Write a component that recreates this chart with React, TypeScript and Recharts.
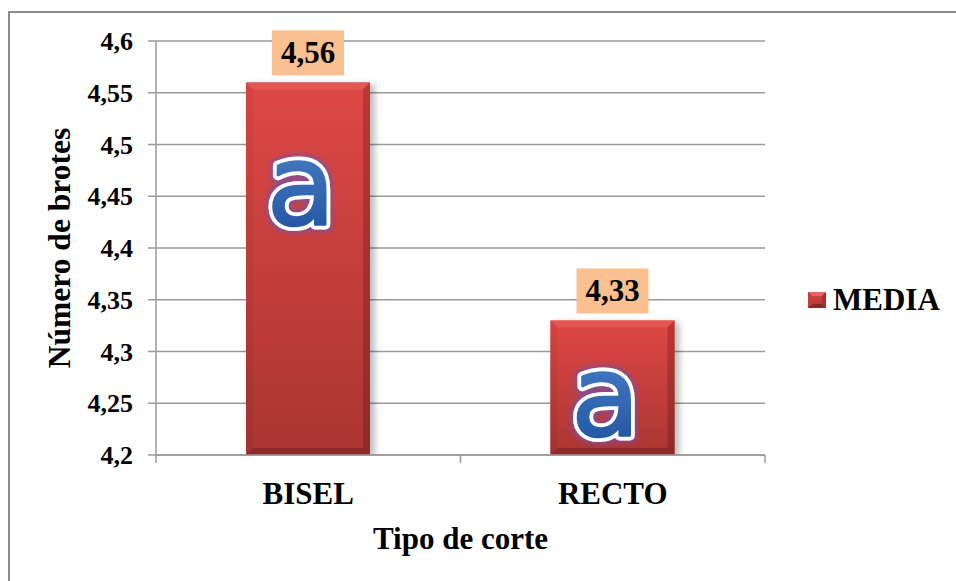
import React from 'react';
import { BarChart, Bar, XAxis, YAxis, CartesianGrid, Legend, LabelList, Label } from 'recharts';

const categories = ['BISEL', 'RECTO'];
const media = [4.56, 4.33];
const letters = ['a', 'a'];
const yTicks = [4.2, 4.25, 4.3, 4.35, 4.4, 4.45, 4.5, 4.55, 4.6];
const seriesName = 'MEDIA';
const xTitle = 'Tipo de corte';
const yTitle = 'Número de brotes';

const data = categories.map((c, i) => ({ cat: c, media: media[i], letter: letters[i] }));

const W = 956;
const H = 581;
const M = { top: 41, right: 191, bottom: 0, left: 0 };
const Y_W = 156;
const X_H = 126;
const PLOT_W = W - M.left - M.right - Y_W;
const PLOT_H = H - M.top - M.bottom - X_H;
const HALF_BAND = PLOT_W / categories.length / 2;
const FONT = '"Liberation Serif", "Times New Roman", serif';
const GRID = '#9a9a9a';

const fmt = (v: number) => String(v).replace('.', ',');

const BevelBar = (props: any) => {
  const { x, y, width, height } = props;
  if (!height || height <= 0) return null;
  const b = 7;
  const x2 = x + width;
  const y2 = y + height;
  return (
    <g>
      <rect x={x + 3} y={y + 2} width={width + 2} height={height} fill="#000" opacity={0.25} filter="url(#barShadow)" />
      <rect x={x} y={y} width={width} height={height} fill="url(#barGrad)" />
      <polygon points={`${x},${y} ${x2},${y} ${x2 - b},${y + b} ${x + b},${y + b}`} fill="#e45a57" opacity={0.8} />
      <polygon points={`${x},${y} ${x + b},${y + b} ${x + b},${y2 - b} ${x},${y2}`} fill="url(#barGradL)" />
      <polygon points={`${x2},${y} ${x2},${y2} ${x2 - b},${y2 - b} ${x2 - b},${y + b}`} fill="url(#barGradR)" />
      <polygon points={`${x},${y2} ${x + b},${y2 - b} ${x2 - b},${y2 - b} ${x2},${y2}`} fill="#8a2a28" opacity={0.9} />
    </g>
  );
};

const ValueLabel = (props: any) => {
  const { x, y, width, value } = props;
  const cx = x + width / 2;
  return (
    <g>
      <rect x={cx - 36} y={y - 52} width={72} height={45} fill="#FAC090" />
      <text x={cx} y={y - 29.5} textAnchor="middle" dominantBaseline="central" fontFamily={FONT} fontWeight="bold" fontSize={31} fill="#000">
        {fmt(value)}
      </text>
    </g>
  );
};

const LetterLabel = (props: any) => {
  const { x, y, width, height, value } = props;
  const cx = x + width / 2 - 7;
  const base = y + Math.min(height * 0.85, 142);
  const common = {
    x: cx,
    y: base,
    textAnchor: 'middle' as const,
    fontFamily: '"DejaVu Sans", Verdana, sans-serif',
    fontSize: 112,
    strokeLinejoin: 'round' as const,
  };
  return (
    <g>
      <text {...common} fill="#ffffff" stroke="#ffffff" strokeWidth={10} filter="url(#letterGlow)">
        {value}
      </text>
      <text {...common} fill="url(#letterGrad)" stroke="url(#letterGrad)" strokeWidth={2.5}>
        {value}
      </text>
    </g>
  );
};

const XTick = (props: any) => {
  const { x, y, payload, index } = props;
  return (
    <g>
      <line x1={x + HALF_BAND} x2={x + HALF_BAND} y1={y} y2={y + 8} stroke={GRID} strokeWidth={1.5} />
      {index === 0 && <line x1={x - HALF_BAND} x2={x - HALF_BAND} y1={y} y2={y + 8} stroke={GRID} strokeWidth={1.5} />}
      <text x={x} y={y + 38} textAnchor="middle" dominantBaseline="central" fontFamily={FONT} fontWeight="bold" fontSize={31} fill="#000">
        {payload.value}
      </text>
    </g>
  );
};

const LegendContent = () => (
  <div style={{ display: 'flex', alignItems: 'center', fontFamily: FONT, fontWeight: 'bold', fontSize: 31, color: '#000', lineHeight: '34px', whiteSpace: 'nowrap' }}>
    <svg width={19} height={17} style={{ marginRight: 6, display: 'block' }}>
      <rect x={0} y={0} width={18} height={16} fill="url(#barGrad)" />
      <polygon points="0,0 18,0 14,4 4,4" fill="#e86461" />
      <polygon points="0,16 4,12 14,12 18,16" fill="#8a2a28" />
      <polygon points="18,0 18,16 14,12 14,4" fill="#a5302d" />
      <polygon points="0,0 4,4 4,12 0,16" fill="#c53c39" />
    </svg>
    <span>{seriesName}</span>
  </div>
);

export default function App() {
  const cyTitle = M.top + PLOT_H / 2;
  return (
    <div style={{ position: 'absolute', left: 0, top: 0, width: W, height: H, overflow: 'hidden', background: '#fff' }}>
      <div style={{ position: 'absolute', left: 8, top: 11, width: 2000, height: 2000, borderLeft: '2px solid #8c8c8c', borderTop: '2px solid #8c8c8c' }} />
      <svg width={0} height={0} style={{ position: 'absolute' }}>
        <defs>
          <linearGradient id="barGrad" x1="0" y1="0" x2="0" y2="1">
            <stop offset="0" stopColor="#de4845" />
            <stop offset="1" stopColor="#aa3532" />
          </linearGradient>
          <linearGradient id="barGradL" x1="0" y1="0" x2="0" y2="1">
            <stop offset="0" stopColor="#d64441" />
            <stop offset="1" stopColor="#a13230" />
          </linearGradient>
          <linearGradient id="barGradR" x1="0" y1="0" x2="0" y2="1">
            <stop offset="0" stopColor="#b83835" />
            <stop offset="1" stopColor="#8c2b29" />
          </linearGradient>
          <linearGradient id="letterGrad" x1="0" y1="0" x2="0" y2="1">
            <stop offset="0" stopColor="#4f86cc" />
            <stop offset="1" stopColor="#1d4f9c" />
          </linearGradient>
          <filter id="barShadow" x="-20%" y="-20%" width="140%" height="140%">
            <feGaussianBlur stdDeviation="3" />
          </filter>
          <filter id="letterGlow" x="-40%" y="-40%" width="180%" height="180%">
            <feMorphology in="SourceAlpha" operator="dilate" radius="2" result="d" />
            <feGaussianBlur in="d" stdDeviation="2.5" result="b" />
            <feFlood floodColor="#7d4e9e" floodOpacity="0.85" />
            <feComposite in2="b" operator="in" result="g" />
            <feMerge>
              <feMergeNode in="g" />
              <feMergeNode in="SourceGraphic" />
            </feMerge>
          </filter>
        </defs>
      </svg>
      <div style={{ position: 'absolute', left: 0, top: 0 }}>
        <BarChart width={W} height={H} data={data} margin={M}>
          <CartesianGrid horizontal vertical={false} stroke={GRID} strokeWidth={1.5} />
          <XAxis
            dataKey="cat"
            height={X_H}
            tickSize={0}
            tickMargin={0}
            tick={<XTick />}
            axisLine={{ stroke: GRID, strokeWidth: 1.5 }}
            tickLine={false}
            interval={0}
          >
            <Label
              content={(p: any) => {
                const vb = p.viewBox || { x: Y_W, y: M.top + PLOT_H, width: PLOT_W };
                return (
                  <text x={vb.x + vb.width / 2} y={vb.y + 83} textAnchor="middle" dominantBaseline="central" fontFamily={FONT} fontWeight="bold" fontSize={31} fill="#000">
                    {xTitle}
                  </text>
                );
              }}
            />
          </XAxis>
          <YAxis
            width={Y_W}
            domain={[4.2, 4.6]}
            ticks={yTicks}
            tickFormatter={fmt}
            tickSize={8}
            tickMargin={15}
            axisLine={{ stroke: GRID, strokeWidth: 1.5 }}
            tickLine={{ stroke: GRID, strokeWidth: 1.5 }}
            tick={{ fontFamily: FONT, fontWeight: 'bold', fontSize: 26, fill: '#000' }}
            allowDataOverflow
          >
            <Label
              content={() => (
                <text x={70} y={cyTitle} transform={`rotate(-90, 70, ${cyTitle})`} textAnchor="middle" fontFamily={FONT} fontWeight="bold" fontSize={31.5} fill="#000">
                  {yTitle}
                </text>
              )}
            />
          </YAxis>
          <Legend layout="vertical" align="center" verticalAlign="middle" content={<LegendContent />} wrapperStyle={{ left: 808, top: 283, width: 148, height: 34 }} />
          <Bar dataKey="media" name={seriesName} barSize={124} shape={<BevelBar />} isAnimationActive={false}>
            <LabelList dataKey="media" content={<ValueLabel />} />
            <LabelList dataKey="letter" content={<LetterLabel />} />
          </Bar>
        </BarChart>
      </div>
    </div>
  );
}
